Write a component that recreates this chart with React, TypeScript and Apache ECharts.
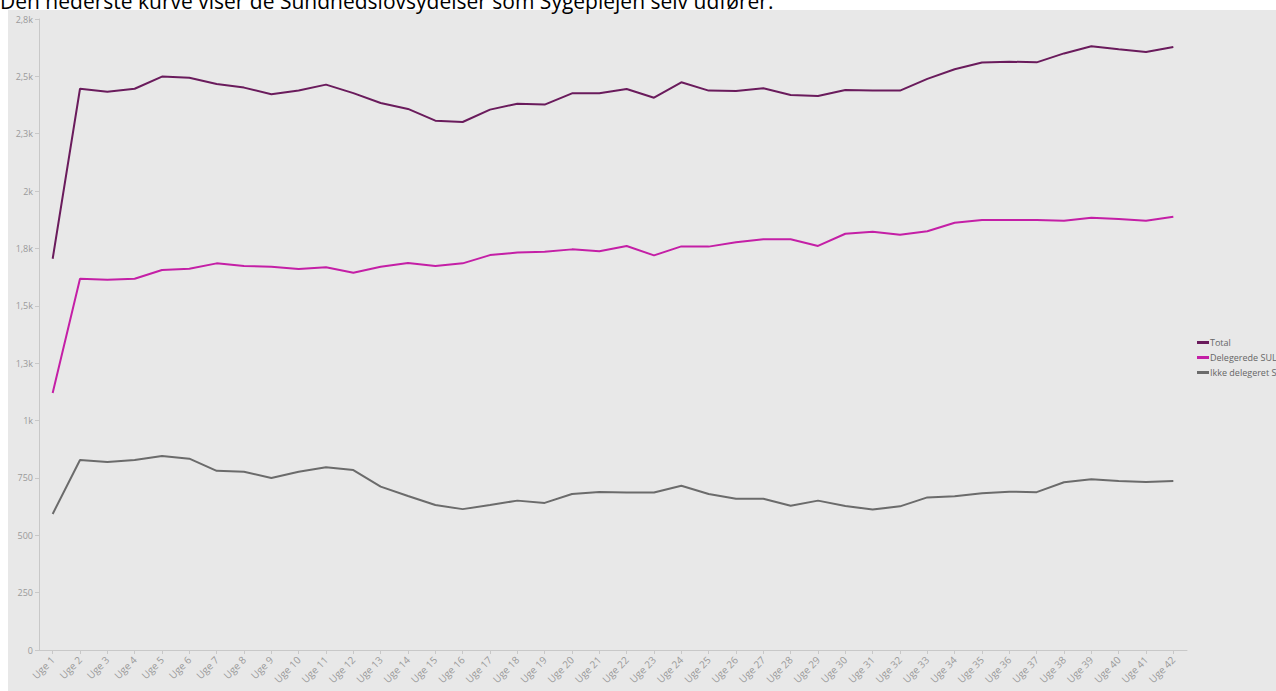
import React, { useEffect, useRef } from "react";
import * as echarts from "echarts";

const titleText = "Den nederste kurve viser de Sundhedslovsydelser som Sygeplejen selv udfører.";

const weeks: string[] = [];
for (let i = 1; i <= 42; i++) weeks.push("Uge " + i);

const total = [
  1705, 2446, 2433, 2446, 2499, 2494, 2467, 2451, 2422, 2438,
  2464, 2427, 2384, 2358, 2307, 2301, 2355, 2381, 2377, 2426,
  2426, 2445, 2407, 2474, 2438, 2436, 2448, 2419, 2414, 2441,
  2438, 2438, 2489, 2531, 2560, 2564, 2561, 2600, 2631, 2618,
  2606, 2628,
];

const delegerede = [
  1120, 1618, 1614, 1618, 1656, 1662, 1685, 1674, 1670, 1660,
  1668, 1644, 1670, 1687, 1674, 1685, 1721, 1732, 1736, 1746,
  1738, 1761, 1720, 1759, 1758, 1777, 1790, 1790, 1761, 1814,
  1823, 1810, 1825, 1862, 1874, 1874, 1874, 1871, 1884, 1878,
  1871, 1888,
];

const ikkeDelegeret = [
  593, 828, 819, 828, 845, 834, 781, 777, 750, 777,
  796, 784, 712, 671, 632, 614, 632, 651, 641, 680,
  689, 686, 686, 716, 680, 659, 659, 629, 651, 628,
  612, 626, 665, 670, 683, 690, 688, 731, 744, 737,
  732, 737,
];

const seriesNames = ["Total", "Delegerede SUL", "Ikke delegeret SUL"];
const seriesColors = ["#6a1b5c", "#c41fa6", "#6b6b6b"];

function fmtY(v: number): string {
  if (v >= 1000) {
    const r = Math.round(v / 100) / 10;
    return String(r).replace(".", ",") + "k";
  }
  return String(v);
}

export default function App() {
  const ref = useRef<HTMLDivElement>(null);
  useEffect(() => {
    if (!ref.current) return;
    const chart = echarts.init(ref.current, null, { renderer: "svg" });
    const font = "'Open Sans', 'Noto Sans', sans-serif";
    chart.setOption({
      animation: false,
      textStyle: { fontFamily: font },
      graphic: [
        {
          type: "rect",
          z: -10,
          shape: { x: 8, y: 10, width: 1268, height: 681 },
          style: { fill: "#e8e8e8" },
          silent: true,
        },
        {
          type: "text",
          x: 0,
          y: 1,
          z: 10,
          style: {
            text: titleText,
            fill: "#000",
            font: "21px 'Open Sans', 'Noto Sans', sans-serif",
            verticalAlign: "middle",
          },
          silent: true,
        },
      ],
      grid: { left: 39, right: 89, top: 19, bottom: 41, containLabel: false },
      legend: {
        orient: "vertical",
        left: 1192,
        top: 333,
        itemWidth: 12,
        itemHeight: 3,
        itemGap: 6,
        icon: "rect",
        textStyle: { color: "#666", fontSize: 9, fontFamily: font, padding: [0, 0, 0, -4] },
        data: seriesNames,
      },
      xAxis: {
        type: "category",
        data: weeks,
        boundaryGap: true,
        axisLine: { show: true, lineStyle: { color: "#c8c8c8", width: 1 } },
        axisTick: { show: true, alignWithLabel: true, length: 4, lineStyle: { color: "#c8c8c8" } },
        axisLabel: { rotate: 45, color: "#9a9a9a", fontSize: 10, fontFamily: font, interval: 0, margin: 8 },
        splitLine: { show: false },
      },
      yAxis: {
        type: "value",
        min: 0,
        max: 2750,
        interval: 250,
        axisLine: { show: true, lineStyle: { color: "#c8c8c8", width: 1 } },
        axisTick: { show: true, length: 4, lineStyle: { color: "#c8c8c8" } },
        axisLabel: { color: "#9a9a9a", fontSize: 9, fontFamily: font, margin: 6, formatter: fmtY },
        splitLine: { show: false },
      },
      series: [
        {
          name: seriesNames[0],
          type: "line",
          data: total,
          symbol: "none",
          lineStyle: { color: seriesColors[0], width: 2 },
          itemStyle: { color: seriesColors[0] },
        },
        {
          name: seriesNames[1],
          type: "line",
          data: delegerede,
          symbol: "none",
          lineStyle: { color: seriesColors[1], width: 2 },
          itemStyle: { color: seriesColors[1] },
        },
        {
          name: seriesNames[2],
          type: "line",
          data: ikkeDelegeret,
          symbol: "none",
          lineStyle: { color: seriesColors[2], width: 2 },
          itemStyle: { color: seriesColors[2] },
        },
      ],
    });
    return () => chart.dispose();
  }, []);
  return (
    <div
      ref={ref}
      style={{ position: "fixed", left: 0, top: 0, width: 1276, height: 691, background: "#fff" }}
    />
  );
}
